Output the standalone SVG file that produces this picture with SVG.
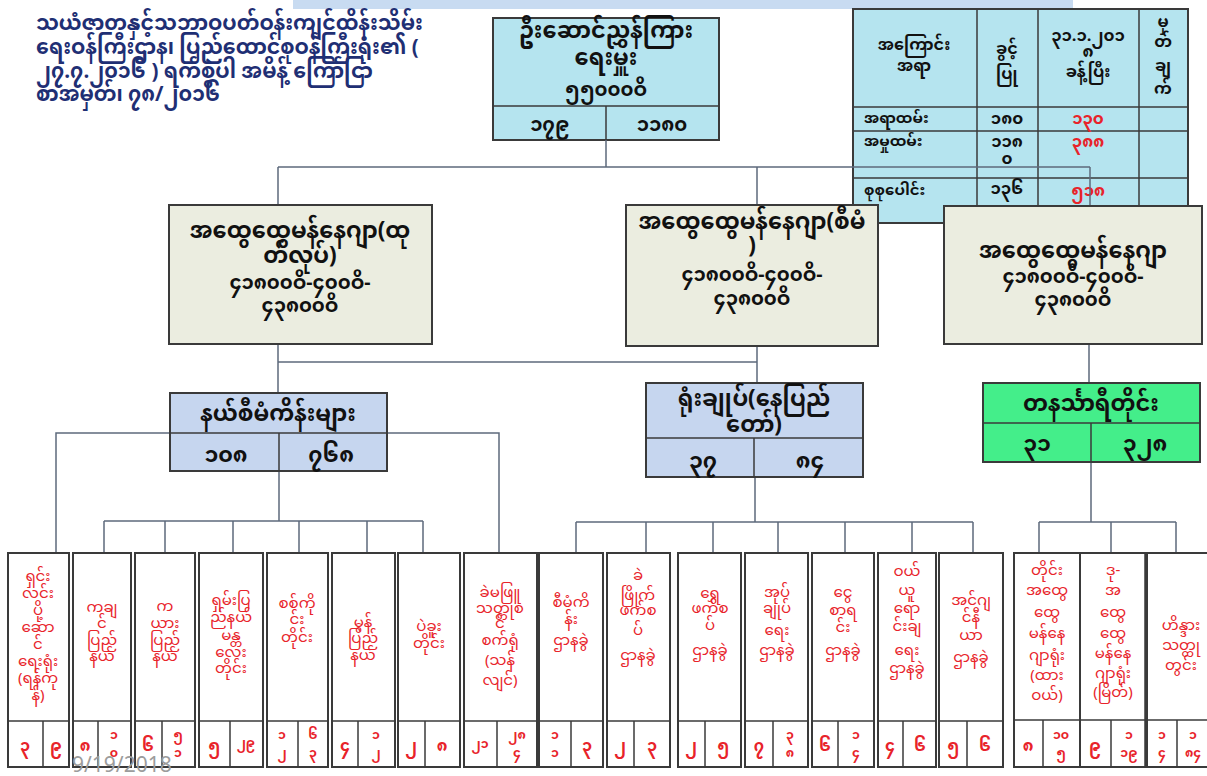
<svg xmlns="http://www.w3.org/2000/svg" width="1207" height="776" viewBox="0 0 1207 776">
<style>
text{font-family:"Noto Sans Myanmar","Padauk","Myanmar Text","Noto Sans",sans-serif;}
.title{font-size:20.5px;font-weight:bold;fill:#1f2f74;}
.bt{font-size:22.5px;font-weight:bold;fill:#111;text-anchor:middle;}
.bd{font-size:19.5px;font-weight:bold;fill:#111;text-anchor:middle;}
.bn{font-size:22px;font-weight:bold;fill:#111;text-anchor:middle;}
.tb{font-size:15px;font-weight:bold;fill:#111;}
.tbc{font-size:16px;font-weight:bold;fill:#111;text-anchor:middle;}
.tbd{font-size:16.5px;font-weight:bold;fill:#111;text-anchor:middle;}
.tr{font-size:16.5px;font-weight:bold;fill:#e8232a;text-anchor:middle;}
.lf{font-size:15px;fill:#e8232a;text-anchor:middle;}
.num{font-size:16px;font-weight:bold;fill:#e8232a;text-anchor:middle;}
.ns{font-size:12.5px;font-weight:bold;fill:#e8232a;text-anchor:middle;}
.box{stroke:#3a3a3a;stroke-width:2;}
.cyan{fill:#b5e4ef;}
.beige{fill:#ebede0;}
.blue{fill:#c6d6ef;}
.green{fill:#44ee8a;}
.leaf{fill:#ffffff;stroke:#3a3a3a;stroke-width:2;}
.ln{stroke:#3a3a3a;stroke-width:1.5;fill:none;}
.conn{stroke:#5d6a7c;stroke-width:1.5;fill:none;}
</style>
<rect x="293" y="0" width="780" height="9" fill="#c8dbf1"/>
<g id="title">
<text class="title" x="36" y="30">သယံဇာတနှင့်သဘာဝပတ်ဝန်းကျင်ထိန်းသိမ်း</text>
<text class="title" x="36" y="54">ရေးဝန်ကြီးဌာန၊ ပြည်ထောင်စုဝန်ကြီးရုံး၏ (</text>
<text class="title" x="36" y="78">၂၇.၇.၂၀၁၆ ) ရက်စွဲပါ အမိန့် ကြော်ငြာ</text>
<text class="title" x="36" y="101">စာအမှတ်၊ ၇၈/၂၀၁၆</text>
</g>
<g id="dg">
<rect class="box cyan" x="493" y="18" width="226" height="122"/>
<line class="ln" x1="493" y1="106" x2="719" y2="106"/>
<line class="ln" x1="606" y1="106" x2="606" y2="140"/>
<text class="bt" x="606" y="38" font-size="24">ဦးဆောင်ညွှန်ကြား</text>
<text class="bt" x="606" y="65" font-size="24">ရေးမှူး</text>
<text class="bd" x="606" y="96">၅၅၀၀၀ဝိ</text>
<text class="bd" x="550" y="131" font-size="21">၁၇၉</text>
<text class="bd" x="662" y="131" font-size="21">၁၁၈၀</text>
</g>
<g id="table">
<rect class="box cyan" x="853" y="9" width="335" height="214"/>
<line class="ln" x1="853" y1="107" x2="1188" y2="107"/>
<line class="ln" x1="853" y1="131" x2="1188" y2="131"/>
<line class="ln" x1="853" y1="178" x2="1188" y2="178"/>
<line class="ln" x1="977" y1="9" x2="977" y2="223"/>
<line class="ln" x1="1038" y1="9" x2="1038" y2="223"/>
<line class="ln" x1="1139" y1="9" x2="1139" y2="223"/>
<text class="tbc" x="914" y="50">အကြောင်း</text>
<text class="tbc" x="914" y="71">အရာ</text>
<text class="tbc" x="1007" y="54">ခွင့်</text>
<text class="tbc" x="1007" y="79">ပြု</text>
<text class="tbd" x="1088" y="41">၃၁.၁.၂၀၁</text>
<text class="tbd" x="1088" y="57">၈</text>
<text class="tbc" x="1088" y="77">ခန့်ပြီး</text>
<text class="tbc" x="1163" y="27">မှ</text>
<text class="tbc" x="1163" y="47">တ်</text>
<text class="tbc" x="1163" y="71">ချ</text>
<text class="tbc" x="1163" y="94">က်</text>
<text class="tb" x="864" y="123">အရာထမ်း</text>
<text class="tbd" x="1007" y="124">၁၈၀</text>
<text class="tr" x="1088" y="124">၁၃၀</text>
<text class="tb" x="864" y="146">အမှုထမ်း</text>
<text class="tbd" x="1007" y="147">၁၁၈</text>
<text class="tbd" x="1007" y="164">၀</text>
<text class="tr" x="1088" y="147">၃၈၈</text>
<text class="tb" x="864" y="195">စုစုပေါင်း</text>
<text class="tbd" x="1007" y="194">၁၃၆</text>
<text class="tr" x="1088" y="196">၅၁၈</text>
</g>
<g id="connectors">
<path class="conn" d="M606 140V167M278 167H1090M278 167V205M757 167V205M1090 167V205"/>
<path class="conn" d="M278 344V393M757 346V383M278 362H757M1089 344V383"/>
<path class="conn" d="M279 471V521M104 521H423M104 521V553M165 521V553M233 521V553M299 521V553M367 521V553M423 521V553"/>
<path class="conn" d="M170 433H56V553M387 433H499V553"/>
<path class="conn" d="M755 477V522M576 522H973M576 522V553M646 522V553M713 522V553M778 522V553M845 522V553M912 522V553M973 522V553"/>
<path class="conn" d="M1091 462V522M1039 522H1176M1039 522V553M1111 522V553M1176 522V553"/>
</g>
<g id="gm1">
<rect class="box beige" x="169" y="205" width="263" height="139"/>
<text class="bt" x="300" y="238">အထွေထွေမန်နေဂျာ(ထု</text>
<text class="bt" x="300" y="263">တ်လုပ်)</text>
<text class="bd" x="300" y="289">၄၁၈၀၀ဝိ-၄၀၀ဝိ-</text>
<text class="bd" x="300" y="312">၄၃၈၀၀ဝိ</text>
</g>
<g id="gm2">
<rect class="box beige" x="626" y="205" width="252" height="141"/>
<text class="bt" x="752" y="229">အထွေထွေမန်နေဂျာ(စီမံ</text>
<text class="bt" x="752" y="253">)</text>
<text class="bd" x="752" y="281">၄၁၈၀၀ဝိ-၄၀၀ဝိ-</text>
<text class="bd" x="752" y="305">၄၃၈၀၀ဝိ</text>
</g>
<g id="gm3">
<rect class="box beige" x="944" y="206" width="258" height="138"/>
<text class="bt" x="1073" y="258">အထွေထွေမန်နေဂျာ</text>
<text class="bd" x="1073" y="283">၄၁၈၀၀ဝိ-၄၀၀ဝိ-</text>
<text class="bd" x="1073" y="306">၄၃၈၀၀ဝိ</text>
</g>
<g id="nayet">
<rect class="box blue" x="170" y="393" width="217" height="78"/>
<line class="ln" x1="170" y1="433" x2="387" y2="433"/>
<line class="ln" x1="279" y1="433" x2="279" y2="471"/>
<text class="bt" x="278" y="421" font-size="23.5">နယ်စီမံကိန်းများ</text>
<text class="bn" x="226" y="462">၁၀၈</text>
<text class="bn" x="331" y="462">၇၆၈</text>
</g>
<g id="hq">
<rect class="box blue" x="646" y="383" width="217" height="94"/>
<line class="ln" x1="646" y1="438" x2="863" y2="438"/>
<line class="ln" x1="754" y1="438" x2="754" y2="477"/>
<text class="bt" x="754" y="406">ရုံးချုပ်(နေပြည်</text>
<text class="bt" x="754" y="432">တော်)</text>
<text class="bn" x="703" y="468">၃၇</text>
<text class="bn" x="810" y="468">၈၄</text>
</g>
<g id="tnty">
<rect class="box green" x="983" y="383" width="217" height="79"/>
<line class="ln" x1="983" y1="423" x2="1200" y2="423"/>
<line class="ln" x1="1091" y1="423" x2="1091" y2="462"/>
<text class="bt" x="1091" y="411">တနင်္သာရီတိုင်း</text>
<text class="bn" x="1037" y="451" font-size="21">၃၁</text>
<text class="bn" x="1145" y="451" font-size="21">၃၂၈</text>
</g>
<g id="leaf1">
<rect class="leaf" x="8" y="553" width="61" height="214"/><line class="ln" x1="8" y1="721" x2="69" y2="721"/><line class="ln" x1="43" y1="721" x2="43" y2="767"/>
<text class="lf" x="38" y="581">ရှင်း</text><text class="lf" x="38" y="598">လင်း</text><text class="lf" x="38" y="615">ပို့</text><text class="lf" x="38" y="632">ဆော</text><text class="lf" x="38" y="649">င်</text><text class="lf" x="38" y="666">ရေးရုံး</text><text class="lf" x="38" y="683">(ရန်ကု</text><text class="lf" x="38" y="700">န်)</text>
<text class="num" x="25" y="751">၃</text><text class="num" x="56" y="751">၉</text>
</g>
<g id="leaf2">
<rect class="leaf" x="73" y="553" width="58" height="214"/><line class="ln" x1="73" y1="721" x2="131" y2="721"/><line class="ln" x1="98" y1="721" x2="98" y2="767"/>
<text class="lf" x="102" y="612">ကချ</text><text class="lf" x="102" y="628">င်</text><text class="lf" x="102" y="645">ပြည်</text><text class="lf" x="102" y="661">နယ်</text>
<text class="num" x="85" y="751">၈</text><text class="ns" x="114" y="739">၁</text><text class="ns" x="114" y="757">၀</text>
</g>
<g id="leaf3">
<rect class="leaf" x="135" y="553" width="60" height="214"/><line class="ln" x1="135" y1="721" x2="195" y2="721"/><line class="ln" x1="162" y1="721" x2="162" y2="767"/>
<text class="lf" x="165" y="611">က</text><text class="lf" x="165" y="628">ယား</text><text class="lf" x="165" y="645">ပြည်</text><text class="lf" x="165" y="661">နယ်</text>
<text class="num" x="148" y="751">၆</text><text class="ns" x="178" y="739">၅</text><text class="ns" x="178" y="757">၁</text>
</g>
<g id="leaf4">
<rect class="leaf" x="199" y="553" width="64" height="214"/><line class="ln" x1="199" y1="721" x2="263" y2="721"/><line class="ln" x1="230" y1="721" x2="230" y2="767"/>
<text class="lf" x="231" y="605">ရှမ်းပြ</text><text class="lf" x="231" y="622">ည်နယ်</text><text class="lf" x="231" y="640">မန္တ</text><text class="lf" x="231" y="657">လေး</text><text class="lf" x="231" y="673">တိုင်း</text>
<text class="num" x="214" y="751">၅</text><text class="ns" x="246" y="747">၂၉</text>
</g>
<g id="leaf5">
<rect class="leaf" x="267" y="553" width="61" height="214"/><line class="ln" x1="267" y1="721" x2="328" y2="721"/><line class="ln" x1="298" y1="721" x2="298" y2="767"/>
<text class="lf" x="297" y="608">စစ်ကို</text><text class="lf" x="297" y="624">င်း</text><text class="lf" x="297" y="642">တိုင်း</text>
<text class="ns" x="282" y="739">၁</text><text class="ns" x="282" y="757">၂</text><text class="ns" x="313" y="739">၆</text><text class="ns" x="313" y="757">၃</text>
</g>
<g id="leaf6">
<rect class="leaf" x="332" y="553" width="63" height="214"/><line class="ln" x1="332" y1="721" x2="395" y2="721"/><line class="ln" x1="358" y1="721" x2="358" y2="767"/>
<text class="lf" x="363" y="627">မွန်</text><text class="lf" x="363" y="643">ပြည်</text><text class="lf" x="363" y="660">နယ်</text>
<text class="num" x="345" y="751">၄</text><text class="ns" x="376" y="739">၁</text><text class="ns" x="376" y="757">၂</text>
</g>
<g id="leaf7">
<rect class="leaf" x="398" y="553" width="62" height="214"/><line class="ln" x1="398" y1="721" x2="460" y2="721"/><line class="ln" x1="425" y1="721" x2="425" y2="767"/>
<text class="lf" x="429" y="631">ပဲခူး</text><text class="lf" x="429" y="648">တိုင်း</text>
<text class="num" x="411" y="751">၂</text><text class="num" x="442" y="751">၈</text>
</g>
<g id="leaf8">
<rect class="leaf" x="464" y="553" width="73" height="214"/><line class="ln" x1="464" y1="721" x2="537" y2="721"/><line class="ln" x1="497" y1="721" x2="497" y2="767"/>
<text class="lf" x="500" y="597">ခဲမဖြူ</text><text class="lf" x="500" y="613">သတ္တုစ</text><text class="lf" x="500" y="628">င်</text><text class="lf" x="500" y="645">စက်ရုံ</text><text class="lf" x="500" y="665">(သန်</text><text class="lf" x="500" y="685">လျင်)</text>
<text class="ns" x="480" y="748">၂၁</text><text class="ns" x="517" y="739">၂၈</text><text class="ns" x="517" y="757">၄</text>
</g>
<g id="leaf9">
<rect class="leaf" x="539" y="553" width="64" height="214"/><line class="ln" x1="539" y1="721" x2="603" y2="721"/><line class="ln" x1="571" y1="721" x2="571" y2="767"/>
<text class="lf" x="571" y="607">စီမံကိ</text><text class="lf" x="571" y="624">န်း</text><text class="lf" x="571" y="645">ဌာနခွဲ</text>
<text class="ns" x="555" y="739">၁</text><text class="ns" x="555" y="757">၁</text><text class="num" x="587" y="751">၃</text>
</g>
<g id="leaf10">
<rect class="leaf" x="607" y="553" width="63" height="214"/><line class="ln" x1="607" y1="721" x2="670" y2="721"/><line class="ln" x1="634" y1="721" x2="634" y2="767"/>
<text class="lf" x="638" y="580">ခဲ</text><text class="lf" x="638" y="600">ဖြိုက်</text><text class="lf" x="638" y="615">ဖက်စ</text><text class="lf" x="638" y="635">ပ်</text><text class="lf" x="638" y="660">ဌာနခွဲ</text>
<text class="num" x="620" y="751">၂</text><text class="num" x="652" y="751">၃</text>
</g>
<g id="leaf11">
<rect class="leaf" x="678" y="553" width="63" height="214"/><line class="ln" x1="678" y1="721" x2="741" y2="721"/><line class="ln" x1="705" y1="721" x2="705" y2="767"/>
<text class="lf" x="710" y="598">ရွှေ</text><text class="lf" x="710" y="613">ဖက်စ</text><text class="lf" x="710" y="630">ပ်</text><text class="lf" x="710" y="655">ဌာနခွဲ</text>
<text class="num" x="691" y="751">၂</text><text class="num" x="723" y="751">၅</text>
</g>
<g id="leaf12">
<rect class="leaf" x="745" y="553" width="63" height="214"/><line class="ln" x1="745" y1="721" x2="808" y2="721"/><line class="ln" x1="773" y1="721" x2="773" y2="767"/>
<text class="lf" x="777" y="597">အုပ်</text><text class="lf" x="777" y="613">ချုပ်</text><text class="lf" x="777" y="635">ရေး</text><text class="lf" x="777" y="655">ဌာနခွဲ</text>
<text class="num" x="759" y="751">၇</text><text class="ns" x="790" y="739">၃</text><text class="ns" x="790" y="757">၈</text>
</g>
<g id="leaf13">
<rect class="leaf" x="812" y="553" width="62" height="214"/><line class="ln" x1="812" y1="721" x2="874" y2="721"/><line class="ln" x1="838" y1="721" x2="838" y2="767"/>
<text class="lf" x="843" y="597">ငွေ</text><text class="lf" x="843" y="615">စာရ</text><text class="lf" x="843" y="632">င်း</text><text class="lf" x="843" y="655">ဌာနခွဲ</text>
<text class="num" x="825" y="751">၆</text><text class="ns" x="856" y="739">၁</text><text class="ns" x="856" y="757">၄</text>
</g>
<g id="leaf14">
<rect class="leaf" x="878" y="553" width="58" height="214"/><line class="ln" x1="878" y1="721" x2="936" y2="721"/><line class="ln" x1="903" y1="721" x2="903" y2="767"/>
<text class="lf" x="907" y="576">ဝယ်</text><text class="lf" x="907" y="595">ယူ</text><text class="lf" x="907" y="613">ရော</text><text class="lf" x="907" y="631">င်းချ</text><text class="lf" x="907" y="655">ရေး</text><text class="lf" x="907" y="673">ဌာနခွဲ</text>
<text class="num" x="890" y="751">၄</text><text class="num" x="920" y="751">၆</text>
</g>
<g id="leaf15">
<rect class="leaf" x="939" y="553" width="64" height="214"/><line class="ln" x1="939" y1="721" x2="1003" y2="721"/><line class="ln" x1="967" y1="721" x2="967" y2="767"/>
<text class="lf" x="971" y="605">အင်ဂျ</text><text class="lf" x="971" y="622">င်နီ</text><text class="lf" x="971" y="640">ယာ</text><text class="lf" x="971" y="662">ဌာနခွဲ</text>
<text class="num" x="953" y="751">၅</text><text class="num" x="985" y="751">၆</text>
</g>
<g id="leaf16">
<rect class="leaf" x="1014" y="553" width="66" height="214"/><line class="ln" x1="1014" y1="720" x2="1080" y2="720"/><line class="ln" x1="1043" y1="720" x2="1043" y2="767"/>
<text class="lf" x="1047" y="575">တိုင်း</text><text class="lf" x="1047" y="595">အထွေ</text><text class="lf" x="1047" y="617">ထွေ</text><text class="lf" x="1047" y="638">မန်နေ</text><text class="lf" x="1047" y="660">ဂျာရုံး</text><text class="lf" x="1047" y="680">(ထား</text><text class="lf" x="1047" y="700">ဝယ်)</text>
<text class="num" x="1028" y="751">၈</text><text class="ns" x="1061" y="739">၁၀</text><text class="ns" x="1061" y="757">၅</text>
</g>
<g id="leaf17">
<rect class="leaf" x="1080" y="553" width="67" height="214"/><line class="ln" x1="1080" y1="720" x2="1147" y2="720"/><line class="ln" x1="1111" y1="720" x2="1111" y2="767"/>
<line x1="1146" y1="553" x2="1146" y2="767" stroke="#3a3a3a" stroke-width="3.5"/>
<text class="lf" x="1113" y="575">ဒု-</text><text class="lf" x="1113" y="595">အ</text><text class="lf" x="1113" y="617">ထွေ</text><text class="lf" x="1113" y="638">ထွေ</text><text class="lf" x="1113" y="658">မန်နေ</text><text class="lf" x="1113" y="678">ဂျာရုံး</text><text class="lf" x="1113" y="697">(မြိတ်)</text>
<text class="num" x="1095" y="751">၉</text><text class="ns" x="1129" y="739">၁</text><text class="ns" x="1129" y="757">၁၉</text>
</g>
<g id="leaf18">
<rect class="leaf" x="1147" y="553" width="66" height="214"/><line class="ln" x1="1147" y1="720" x2="1213" y2="720"/><line class="ln" x1="1177" y1="720" x2="1177" y2="767"/>
<text class="lf" x="1181" y="630">ဟိန္ဒား</text><text class="lf" x="1181" y="650">သတ္တု</text><text class="lf" x="1181" y="670">တွင်း</text>
<text class="ns" x="1162" y="739">၁</text><text class="ns" x="1162" y="757">၄</text><text class="ns" x="1193" y="739">၁</text><text class="ns" x="1193" y="757">၈၄</text>
</g>
<text x="72" y="772" font-family="Liberation Sans, sans-serif" font-size="21" fill="#9c9c9c">9/19/2018</text>
</svg>
